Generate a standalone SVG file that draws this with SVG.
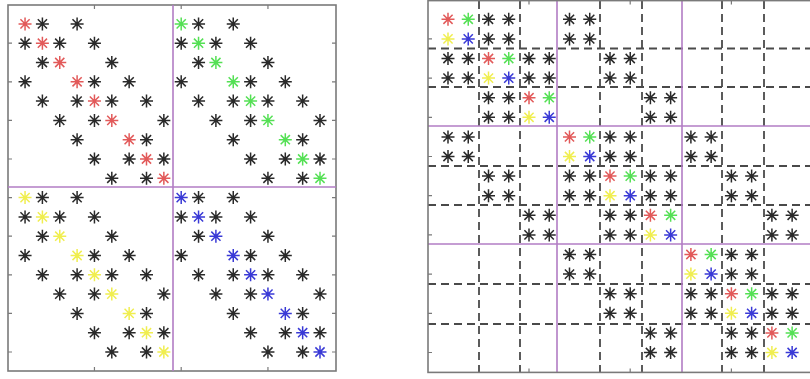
<svg xmlns="http://www.w3.org/2000/svg" xmlns:xlink="http://www.w3.org/1999/xlink" width="810" height="379" viewBox="0 0 810 379">
<style>
.frame{fill:none;stroke:#7a7a7a;stroke-width:1.6}
.tick{stroke:#7a7a7a;stroke-width:1.2}
.pur{stroke:#b27cc4;stroke-width:1.6}
.dash{stroke:#4a4a4a;stroke-width:1.8;stroke-dasharray:8 5;fill:none}
.k{stroke:#2a2a2a}
.r{stroke:#e25a5a}
.g{stroke:#55e055}
.b{stroke:#3a3ad6}
.y{stroke:#f0ee50;stroke-width:2.4}
</style>
<defs>
<g id="st" stroke-width="1.5" fill="none"><path d="M-6.5 0H6.5M0 -6.5V6.5M-4.6 -4.6L4.6 4.6M-4.6 4.6L4.6 -4.6"/><circle r="0.8"/></g>
<g id="offL" class="k">
<use href="#st" x="17.35" y="0"/><use href="#st" x="52.05" y="0"/>
<use href="#st" x="0" y="19.3"/><use href="#st" x="34.7" y="19.3"/><use href="#st" x="69.4" y="19.3"/>
<use href="#st" x="17.35" y="38.6"/><use href="#st" x="86.75" y="38.6"/>
<use href="#st" x="0" y="57.9"/><use href="#st" x="69.4" y="57.9"/><use href="#st" x="104.1" y="57.9"/>
<use href="#st" x="17.35" y="77.2"/><use href="#st" x="52.05" y="77.2"/><use href="#st" x="86.75" y="77.2"/><use href="#st" x="121.45" y="77.2"/>
<use href="#st" x="34.7" y="96.5"/><use href="#st" x="69.4" y="96.5"/><use href="#st" x="138.8" y="96.5"/>
<use href="#st" x="52.05" y="115.8"/><use href="#st" x="121.45" y="115.8"/>
<use href="#st" x="69.4" y="135.1"/><use href="#st" x="104.1" y="135.1"/><use href="#st" x="138.8" y="135.1"/>
<use href="#st" x="86.75" y="154.4"/><use href="#st" x="121.45" y="154.4"/>
</g>
<g id="diagL">
<use href="#st" x="0" y="0"/><use href="#st" x="17.35" y="19.3"/><use href="#st" x="34.7" y="38.6"/>
<use href="#st" x="52.05" y="57.9"/><use href="#st" x="69.4" y="77.2"/><use href="#st" x="86.75" y="96.5"/>
<use href="#st" x="104.1" y="115.8"/><use href="#st" x="121.45" y="135.1"/><use href="#st" x="138.8" y="154.4"/>
</g>
<g id="b4" class="k">
<use href="#st" x="0" y="0"/><use href="#st" x="20.24" y="0"/><use href="#st" x="0" y="19.6"/><use href="#st" x="20.24" y="19.6"/>
</g>
<g id="bd">
<use href="#st" x="0" y="0" class="r"/><use href="#st" x="20.24" y="0" class="g"/><use href="#st" x="0" y="19.6" class="y"/><use href="#st" x="20.24" y="19.6" class="b"/>
</g>
</defs>
<rect width="810" height="379" fill="#ffffff"/>

<g id="left-matrix">
<rect class="frame" x="8" y="5" width="328" height="366"/>
<g id="left-ticks">
<path class="tick" d="M8 43.2h4M8 81.8h4M8 120.4h4M8 159h4M8 197.6h4M8 236.2h4M8 274.8h4M8 313.4h4M8 352h4"/>
<path class="tick" d="M336 43.2h-4M336 81.8h-4M336 120.4h-4M336 159h-4M336 197.6h-4M336 236.2h-4M336 274.8h-4M336 313.4h-4M336 352h-4"/>
<path class="tick" d="M94.45 5v4M181.2 5v4M267.95 5v4M94.45 371v-4M181.2 371v-4M267.95 371v-4"/>
</g>
<g id="left-dividers">
<line class="pur" x1="173" y1="5" x2="173" y2="371"/>
<line class="pur" x1="8" y1="187" x2="336" y2="187"/>
</g>
<g id="left-stars">
<use href="#offL" x="25.05" y="23.9"/>
<use href="#offL" x="181.2" y="23.9"/>
<use href="#offL" x="25.05" y="197.6"/>
<use href="#offL" x="181.2" y="197.6"/>
<use href="#diagL" x="25.05" y="23.9" class="r"/>
<use href="#diagL" x="181.2" y="23.9" class="g"/>
<use href="#diagL" x="25.05" y="197.6" class="y"/>
<use href="#diagL" x="181.2" y="197.6" class="b"/>
</g>
</g>

<g id="right-matrix">
<g id="right-grid">
<path class="dash" d="M479 1V372M520 1V372M600 1V372M642 1V372M722 1V372M764 1V372"/>
<path class="dash" d="M428 48.5H812M428 87H812M428 166H812M428 205H812M428 284H812M428 324H812"/>
</g>
<g id="right-dividers">
<line class="pur" x1="557" y1="1" x2="557" y2="372"/>
<line class="pur" x1="682" y1="1" x2="682" y2="372"/>
<line class="pur" x1="428" y1="126" x2="812" y2="126"/>
<line class="pur" x1="428" y1="244" x2="812" y2="244"/>
</g>
<rect class="frame" x="428" y="0.6" width="384" height="371.8"/>
<g id="right-ticks">
<path class="tick" d="M428 38.9h4M428 78.1h4M428 117.3h4M428 156.5h4M428 195.7h4M428 234.9h4M428 274.1h4M428 313.3h4M428 352.5h4"/>
<path class="tick" d="M529 0.6v4M630.2 0.6v4M731.4 0.6v4M529 372.4v-4M630.2 372.4v-4M731.4 372.4v-4"/>
</g>
<g id="right-stars">
<use href="#bd" x="448" y="19.3"/>
<use href="#bd" x="488.5" y="58.5"/>
<use href="#bd" x="529" y="97.7"/>
<use href="#bd" x="569.5" y="136.9"/>
<use href="#bd" x="610" y="176.1"/>
<use href="#bd" x="650.4" y="215.3"/>
<use href="#bd" x="690.9" y="254.5"/>
<use href="#bd" x="731.4" y="293.7"/>
<use href="#bd" x="771.9" y="332.9"/>
<use href="#b4" x="488.5" y="19.3"/><use href="#b4" x="569.5" y="19.3"/>
<use href="#b4" x="448" y="58.5"/><use href="#b4" x="529" y="58.5"/><use href="#b4" x="610" y="58.5"/>
<use href="#b4" x="488.5" y="97.7"/><use href="#b4" x="650.4" y="97.7"/>
<use href="#b4" x="448" y="136.9"/><use href="#b4" x="610" y="136.9"/><use href="#b4" x="690.9" y="136.9"/>
<use href="#b4" x="488.5" y="176.1"/><use href="#b4" x="569.5" y="176.1"/><use href="#b4" x="650.4" y="176.1"/><use href="#b4" x="731.4" y="176.1"/>
<use href="#b4" x="529" y="215.3"/><use href="#b4" x="610" y="215.3"/><use href="#b4" x="771.9" y="215.3"/>
<use href="#b4" x="569.5" y="254.5"/><use href="#b4" x="731.4" y="254.5"/>
<use href="#b4" x="610" y="293.7"/><use href="#b4" x="690.9" y="293.7"/><use href="#b4" x="771.9" y="293.7"/>
<use href="#b4" x="650.4" y="332.9"/><use href="#b4" x="731.4" y="332.9"/>
</g>
</g>
</svg>
